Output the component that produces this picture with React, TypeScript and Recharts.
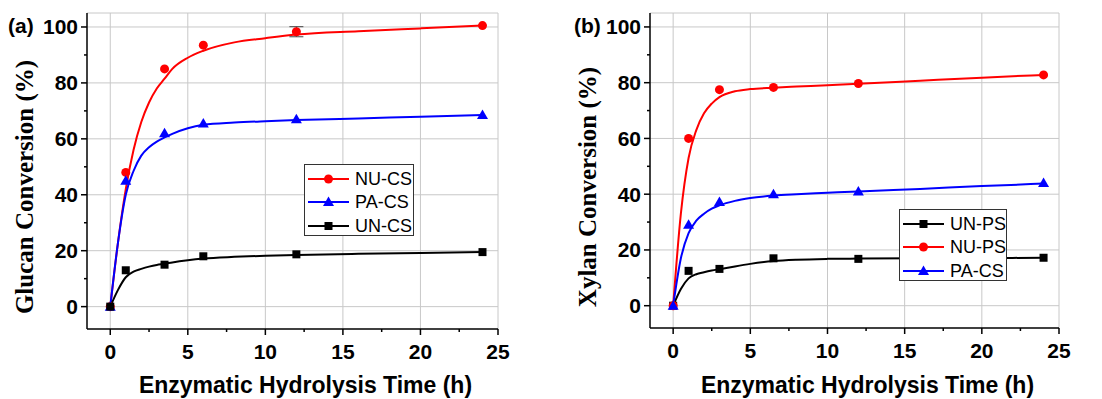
import React from 'react';
import { ComposedChart, Line, Scatter, XAxis, YAxis, ReferenceLine, ErrorBar } from 'recharts';

// measured points
const TIME_A = [0, 1, 3.5, 6, 12, 24];
const NU_CS = [0, 48, 85, 93.5, 98.3, 100.5];
const PA_CS = [0, 45, 62, 65.5, 67, 68.5];
const UN_CS = [0, 13, 15, 18, 18.7, 19.5];
const NU_CS_ERR = [0, 0, 0, 0, 1.8, 0];

const TIME_B = [0, 1, 3, 6.5, 12, 24];
const UN_PS = [0, 12.5, 13.2, 17, 16.8, 17.2];
const NU_PS = [0, 60, 77.5, 78.3, 79.7, 82.8];
const PA_CS_B = [0, 29, 37.2, 40, 41, 44];

// fitted curves
const FIT_T_A = [0, 0.5, 1, 1.5, 2, 2.5, 3, 3.5, 4, 5, 6, 8, 10, 12, 16, 20, 24];
const NU_CS_FIT = [0, 23, 42, 56, 66, 73, 78, 81.5, 85, 89, 91.5, 94.5, 96, 97.3, 98.5, 99.5, 100.5];
const PA_CS_FIT = [0, 23, 40, 48.5, 54, 57, 59, 60.5, 61.8, 63.8, 65, 65.8, 66.3, 66.7, 67.3, 67.9, 68.5];
const UN_CS_FIT = [0, 6, 10.5, 12.5, 13.5, 14.3, 14.9, 15.3, 15.8, 16.6, 17.2, 17.8, 18.2, 18.5, 18.9, 19.2, 19.5];

const FIT_T_B = [0, 0.5, 1, 1.5, 2, 2.5, 3, 4, 5, 6.5, 8, 10, 12, 16, 20, 24];
const NU_PS_FIT = [0, 33, 53, 63, 69, 72.5, 74.8, 76.9, 77.7, 78.2, 78.6, 79.1, 79.6, 80.7, 81.8, 82.8];
const PA_CS_B_FIT = [0, 17, 26, 30.5, 33, 34.8, 36, 37.6, 38.6, 39.5, 40, 40.5, 41, 41.9, 42.9, 43.8];
const UN_PS_FIT = [0, 6, 9.8, 11.3, 12, 12.6, 13.1, 14.1, 15, 16, 16.5, 16.8, 16.9, 17, 17.1, 17.2];

const X_TICKS = [0, 2.5, 5, 7.5, 10, 12.5, 15, 17.5, 20, 22.5, 25];
const Y_TICKS = [0, 10, 20, 30, 40, 50, 60, 70, 80, 90, 100];
const X_GRID = [0, 5, 10, 15, 20, 25];
const Y_GRID = [0, 20, 40, 60, 80, 100, 105];

const RED = '#ff0000';
const BLUE = '#0000ff';
const BLACK = '#000000';
const SANS = '"Liberation Sans", Arial, sans-serif';
const SERIF = '"Liberation Serif", "Times New Roman", serif';

const zip = (t: number[], v: number[], e?: number[]) =>
  t.map((x, i) => ({ t: x, v: v[i], e: e ? e[i] : 0 }));

type Kind = 'circle' | 'triangle' | 'square';

const Marker = ({ cx, cy, kind, color }: { cx: number; cy: number; kind: Kind; color: string }) => {
  if (kind === 'circle') return <circle cx={cx} cy={cy} r={4.5} fill={color} />;
  if (kind === 'triangle')
    return <polygon points={`${cx},${cy - 5.5} ${cx - 5.5},${cy + 4} ${cx + 5.5},${cy + 4}`} fill={color} />;
  return <rect x={cx - 4} y={cy - 4} width={8} height={8} fill={color} />;
};

const XTick = (props: any) => {
  const { x, y, payload } = props;
  const major = payload.value % 5 === 0;
  return (
    <g>
      <line x1={x} x2={x} y1={y} y2={y + (major ? 6 : 3)} stroke={BLACK} strokeWidth={1.5} />
      {major && (
        <text x={x} y={y + 30} textAnchor="middle" fontFamily={SANS} fontWeight="bold" fontSize={21} fill={BLACK}>
          {payload.value}
        </text>
      )}
    </g>
  );
};

const YTick = (props: any) => {
  const { x, y, payload } = props;
  const major = payload.value % 20 === 0;
  return (
    <g>
      <line x1={x - (major ? 6 : 3)} x2={x} y1={y} y2={y} stroke={BLACK} strokeWidth={1.5} />
      {major && (
        <text x={x - 9} y={y + 7.5} textAnchor="end" fontFamily={SANS} fontWeight="bold" fontSize={21} fill={BLACK}>
          {payload.value}
        </text>
      )}
    </g>
  );
};

interface Series {
  name: string;
  color: string;
  kind: Kind;
  points: { t: number; v: number; e: number }[];
  fit: { t: number; v: number; e: number }[];
  err?: { t: number; v: number; e: number }[];
}

interface PanelProps {
  left: number;
  width: number;
  yAxisWidth: number;
  right: number;
  xAxisHeight: number;
  yTitle: string;
  yTitleX: number;
  tag: string;
  tagX: number;
  series: Series[];
}

const Panel: React.FC<PanelProps> = ({ left, width, yAxisWidth, right, xAxisHeight, yTitle, yTitleX, tag, tagX, series }) => (
  <div style={{ position: 'absolute', left, top: 0 }}>
    <ComposedChart width={width} height={399} margin={{ top: 13, right, bottom: 0, left: 0 }}>
      {X_GRID.map((g) => (
        <ReferenceLine key={'x' + g} x={g} stroke="#c8c8c8" strokeWidth={1} />
      ))}
      {Y_GRID.map((g) => (
        <ReferenceLine key={'y' + g} y={g} stroke="#c8c8c8" strokeWidth={1} />
      ))}
      <XAxis
        type="number"
        dataKey="t"
        domain={[-1.5, 25]}
        ticks={X_TICKS}
        interval={0}
        height={xAxisHeight}
        tickSize={0}
        tickMargin={0}
        tick={<XTick />}
        axisLine={{ stroke: BLACK, strokeWidth: 1.5 }}
        tickLine={false}
        allowDataOverflow
        label={{
          content: (p: any) => (
            <text
              x={p.viewBox.x + p.viewBox.width / 2 + 13}
              y={393}
              textAnchor="middle"
              fontFamily={SANS}
              fontWeight="bold"
              fontSize={23}
              fill={BLACK}
            >
              Enzymatic Hydrolysis Time (h)
            </text>
          ),
        }}
      />
      <YAxis
        type="number"
        dataKey="v"
        domain={[-8, 105]}
        ticks={Y_TICKS}
        interval={0}
        width={yAxisWidth}
        tickSize={0}
        tickMargin={0}
        tick={<YTick />}
        axisLine={{ stroke: BLACK, strokeWidth: 1.5 }}
        tickLine={false}
        allowDataOverflow
        label={{
          content: () => (
            <g>
              <text
                x={yTitleX}
                y={187}
                transform={`rotate(-90 ${yTitleX} 187)`}
                textAnchor="middle"
                dominantBaseline="central"
                fontFamily={SERIF}
                fontWeight="bold"
                fontSize={25}
                fill={BLACK}
              >
                {yTitle}
              </text>
              <text x={tagX} y={33} fontFamily={SANS} fontWeight="bold" fontSize={21} fill={BLACK}>
                {tag}
              </text>
            </g>
          ),
        }}
      />
      {series.map((s) => (
        <Line
          key={'fit' + s.name}
          data={s.fit}
          dataKey="v"
          type="monotone"
          stroke={s.color}
          strokeWidth={2}
          dot={false}
          activeDot={false}
          isAnimationActive={false}
        />
      ))}
      {series
        .filter((s) => s.err)
        .map((s) => (
          <Scatter key={'err' + s.name} data={s.err} dataKey="v" shape={() => <g />} isAnimationActive={false}>
            <ErrorBar dataKey="e" direction="y" width={7} stroke="#444" strokeWidth={1} isAnimationActive={false} />
          </Scatter>
        ))}
      {series.map((s) => (
        <Scatter
          key={'pts' + s.name}
          data={s.points}
          dataKey="v"
          isAnimationActive={false}
          shape={(p: any) => <Marker cx={p.cx} cy={p.cy} kind={s.kind} color={s.color} />}
        />
      ))}
    </ComposedChart>
  </div>
);

const LegendBox = ({ left, top, width, items }: { left: number; top: number; width: number; items: Series[] }) => (
  <div
    style={{
      position: 'absolute',
      left,
      top,
      width,
      height: 72,
      border: '1px solid #333',
      background: '#fff',
      boxSizing: 'border-box',
      padding: '2px 0 0 2px',
    }}
  >
    {items.map((s) => (
      <div key={s.name} style={{ display: 'flex', alignItems: 'center', height: 23.5, whiteSpace: 'nowrap' }}>
        <svg width={43} height={16} style={{ display: 'block', flexShrink: 0 }}>
          <line x1={1} x2={42} y1={8} y2={8} stroke={s.color} strokeWidth={2} />
          <Marker cx={21.5} cy={8} kind={s.kind} color={s.color} />
        </svg>
        <span style={{ fontFamily: SANS, fontSize: 18, marginLeft: 5, lineHeight: '20px', color: BLACK, whiteSpace: 'nowrap' }}>
          {s.name}
        </span>
      </div>
    ))}
  </div>
);

const seriesA: Series[] = [
  { name: 'NU-CS', color: RED, kind: 'circle', points: zip(TIME_A, NU_CS), fit: zip(FIT_T_A, NU_CS_FIT), err: zip([TIME_A[4]], [NU_CS[4]], [NU_CS_ERR[4]]) },
  { name: 'PA-CS', color: BLUE, kind: 'triangle', points: zip(TIME_A, PA_CS), fit: zip(FIT_T_A, PA_CS_FIT) },
  { name: 'UN-CS', color: BLACK, kind: 'square', points: zip(TIME_A, UN_CS), fit: zip(FIT_T_A, UN_CS_FIT) },
];

const seriesB: Series[] = [
  { name: 'UN-PS', color: BLACK, kind: 'square', points: zip(TIME_B, UN_PS), fit: zip(FIT_T_B, UN_PS_FIT) },
  { name: 'NU-PS', color: RED, kind: 'circle', points: zip(TIME_B, NU_PS), fit: zip(FIT_T_B, NU_PS_FIT) },
  { name: 'PA-CS', color: BLUE, kind: 'triangle', points: zip(TIME_B, PA_CS_B), fit: zip(FIT_T_B, PA_CS_B_FIT) },
];

export default function App() {
  return (
    <div style={{ position: 'absolute', left: 0, top: 0, width: 1102, height: 399, background: '#fff', overflow: 'hidden' }}>
      <Panel
        left={0}
        width={550}
        yAxisWidth={87}
        right={52}
        xAxisHeight={70}
        yTitle="Glucan Conversion (%)"
        yTitleX={24}
        tag="(a)"
        tagX={8}
        series={seriesA}
      />
      <Panel
        left={550}
        width={552}
        yAxisWidth={100}
        right={43}
        xAxisHeight={71}
        yTitle="Xylan Conversion (%)"
        yTitleX={37}
        tag="(b)"
        tagX={24}
        series={seriesB}
      />
      <LegendBox left={304} top={164} width={110} items={seriesA} />
      <LegendBox left={899} top={209} width={108} items={seriesB} />
    </div>
  );
}
